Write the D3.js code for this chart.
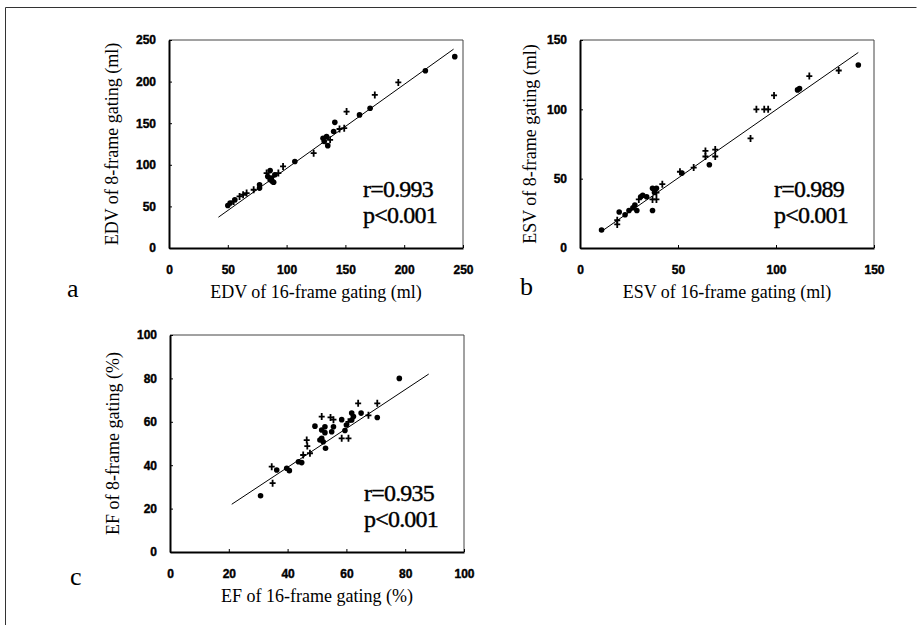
<!DOCTYPE html>
<html lang="en">
  <head>
    <meta charset="utf-8">
    <title>8-frame vs 16-frame gating</title>
    <script type="text/javascript" src="https://cdn.jsdelivr.net/npm/d3@7/dist/d3.min.js"></script>
    <style>
      body { margin: 0; background: #fff; }
    </style>
  </head>

  <body>
    <script>
      // values: [16-frame, 8-frame, marker]
      var edvPoints = [
        [243, 230, 'o'], [218, 213, 'o'], [195, 199, '+'], [175, 184, '+'], [171, 168, 'o'],
        [162, 160, 'o'], [151, 164, '+'], [141, 151, 'o'], [145, 143, '+'], [149, 144, '+'],
        [140, 140, 'o'], [134, 134, 'o'], [132, 128, 'o'], [131, 132, 'o'], [135, 123, 'o'],
        [137, 130, '+'], [123, 114, '+'], [107, 104, 'o'], [97, 98, '+'], [86, 93, 'o'],
        [90, 88, 'o'], [87, 84, 'o'], [84, 86, 'o'], [89, 79, 'o'], [93, 90, '+'],
        [83, 90, '+'], [77, 76, 'o'], [77, 72, 'o'], [72, 70, '+'], [66, 66, '+'],
        [63, 64, '+'], [60, 62, '+'], [56, 58, 'o'], [52, 54, 'o'], [50, 51, 'o'],
        [55, 56, '+'], [86, 82, 'o'], [88, 80, 'o']
      ]
      var esvPoints = [
        [142, 132, 'o'], [132, 128, '+'], [117, 124, '+'], [112, 115, 'o'], [111, 114, 'o'],
        [99, 110, '+'], [90, 100, '+'], [94, 100, '+'], [96, 100, '+'], [87, 79, '+'],
        [64, 70, '+'], [69, 71, '+'], [69, 66, '+'], [64, 66, '+'], [66, 60, 'o'],
        [58, 58, '+'], [52, 54, 'o'], [51, 55, '+'], [42, 46, '+'], [37, 43, 'o'],
        [39, 43, 'o'], [38, 40, 'o'], [32, 38, 'o'], [34, 37, 'o'], [39, 40, '+'],
        [37, 35, '+'], [39, 35, '+'], [37, 27, 'o'], [30, 35, '+'], [28, 31, 'o'],
        [29, 27, 'o'], [25, 27, 'o'], [20, 26, 'o'], [23, 24, 'o'], [19, 20, '+'],
        [19, 17, '+'], [11, 13, 'o'], [31, 37, 'o'], [27, 29, 'o']
      ]
      var efPoints = [
        [78, 80, 'o'], [70.5, 68.5, '+'], [70.5, 62, 'o'], [64, 68.5, '+'], [67.5, 63, '+'],
        [65, 64, 'o'], [62.4, 62.4, 'o'], [61.8, 60.8, 'o'], [61.8, 64, 'o'], [60.7, 60, '+'],
        [60, 58.5, 'o'], [59.5, 56, 'o'], [58.4, 61, 'o'], [60.7, 52.4, '+'], [55.6, 61, '+'],
        [55.6, 57.7, 'o'], [58.4, 52.4, '+'], [54.6, 62, '+'], [51.6, 62.4, '+'], [52.7, 57.7, 'o'],
        [52.7, 55, 'o'], [55, 55.4, 'o'], [51.6, 56.2, 'o'], [49.3, 58, 'o'], [51.6, 52.4, 'o'],
        [52.1, 50.8, 'o'], [52.9, 47.8, 'o'], [51, 51.6, 'o'], [46.5, 51.6, '+'], [46.7, 48.8, '+'],
        [47.6, 45.5, '+'], [45.3, 44.7, '+'], [44.8, 41.2, 'o'], [43.7, 41.6, 'o'], [39.7, 38.6, 'o'],
        [40.6, 37.5, 'o'], [36.3, 37.8, 'o'], [34.6, 39.3, '+'], [34.9, 31.7, '+'], [30.8, 25.9, 'o']
      ]

      // regression line ends
      var edvLine = [[42, 37], [242, 239]]
      var esvLine = [[11, 12], [142, 141]]
      var efLine = [[21, 22], [88, 82]]

      // tick labels
      var edvTicks = [0, 50, 100, 150, 200, 250]
      var esvTicks = [0, 50, 100, 150]
      var efTicks = [0, 20, 40, 60, 80, 100]

      var edvStats = ['r=0.993', 'p<0.001']
      var esvStats = ['r=0.989', 'p<0.001']
      var efStats = ['r=0.935', 'p<0.001']

      var serif = '"Liberation Serif", "Times New Roman", serif'
      var sans = '"Liberation Sans", Arial, sans-serif'

      var svg = d3.select('body').append('svg').attr('width', 923).attr('height', 625)

      // outer frame
      svg.append('path').attr('d', 'M5.5,640V7.5H916.5')
        .attr('fill', 'none').attr('stroke', '#333').attr('stroke-width', 1)

      function drawPanel(p) {
        var x = d3.scaleLinear().domain([0, p.max]).range(p.xr)
        var y = d3.scaleLinear().domain([0, p.max]).range(p.yr)
        var g = svg.append('g')

        // thin top / right edges
        g.append('path')
          .attr('d', 'M' + x(0) + ',' + y(p.max) + 'H' + x(p.max) + 'V' + y(0))
          .attr('fill', 'none').attr('stroke', '#444').attr('stroke-width', 1)

        // axes
        var xa = g.append('g').attr('transform', 'translate(0,' + y(0) + ')')
          .call(d3.axisBottom(x).tickValues(p.ticks).tickSize(-3).tickPadding(15).tickSizeOuter(0))
        var ya = g.append('g').attr('transform', 'translate(' + x(0) + ',0)')
          .call(d3.axisLeft(y).tickValues(p.ticks).tickSize(-3).tickPadding(13).tickSizeOuter(0))
        ;[xa, ya].forEach(function(a) {
          a.select('.domain').attr('stroke', '#000').attr('stroke-width', 2)
          a.selectAll('.tick line').attr('stroke', '#000').attr('stroke-width', 1)
          a.selectAll('.tick text').attr('font-family', sans).attr('font-weight', 'bold')
            .attr('font-size', 12).attr('fill', '#000')
            .attr('stroke', '#000').attr('stroke-width', 0.4)
        })
        xa.selectAll('.tick text').attr('dy', '0.9em')

        // regression line
        g.append('line')
          .attr('x1', x(p.line[0][0])).attr('y1', y(p.line[0][1]))
          .attr('x2', x(p.line[1][0])).attr('y2', y(p.line[1][1]))
          .attr('stroke', '#000').attr('stroke-width', 1)

        // markers
        g.selectAll('circle').data(p.points.filter(function(d) { return d[2] == 'o' }))
          .enter().append('circle')
          .attr('cx', function(d) { return x(d[0]) })
          .attr('cy', function(d) { return y(d[1]) })
          .attr('r', 2.8).attr('fill', '#000')
        g.selectAll('path.plus').data(p.points.filter(function(d) { return d[2] == '+' }))
          .enter().append('path').attr('class', 'plus')
          .attr('d', function(d) {
            var cx = x(d[0]), cy = y(d[1])
            return 'M' + (cx - 3) + ',' + cy + 'H' + (cx + 3) + 'M' + cx + ',' + (cy - 3.5) + 'V' + (cy + 3.5)
          })
          .attr('stroke', '#000').attr('stroke-width', 1.8)

        // r / p
        g.selectAll('text.stat').data(p.stats).enter().append('text').attr('class', 'stat')
          .attr('x', x(p.max) - 100).attr('y', function(d, i) { return y(0) - 51 + i * 26 })
          .attr('font-family', serif).attr('font-size', 24).attr('letter-spacing', -0.8)
          .attr('fill', '#000').attr('stroke', '#000').attr('stroke-width', 0.4)
          .text(function(d) { return d })

        // axis titles
        g.append('text')
          .attr('x', (x(0) + x(p.max)) / 2).attr('y', y(0) + 50)
          .attr('text-anchor', 'middle').attr('font-family', serif).attr('font-size', 18)
          .attr('fill', '#000').text(p.xTitle)
        g.append('text')
          .attr('transform', 'translate(' + p.yTitleX + ',' + (y(0) + y(p.max)) / 2 + ') rotate(-90)')
          .attr('text-anchor', 'middle').attr('font-family', serif).attr('font-size', 18)
          .attr('fill', '#000').text(p.yTitle)

        // panel letter
        g.append('text').attr('x', p.letterX).attr('y', y(0) + p.letterDy)
          .attr('font-family', serif).attr('font-size', 26).attr('fill', '#000').text(p.letter)
      }

      drawPanel({
        max: 250, xr: [169, 463], yr: [248, 40], ticks: edvTicks, points: edvPoints, line: edvLine,
        stats: edvStats, xTitle: 'EDV of 16-frame gating (ml)', yTitle: 'EDV of 8-frame gating (ml)',
        yTitleX: 118, letter: 'a', letterX: 67, letterDy: 49
      })
      drawPanel({
        max: 150, xr: [580, 874], yr: [248, 40], ticks: esvTicks, points: esvPoints, line: esvLine,
        stats: esvStats, xTitle: 'ESV of 16-frame gating (ml)', yTitle: 'ESV of 8-frame gating (ml)',
        yTitleX: 536, letter: 'b', letterX: 520, letterDy: 47
      })
      drawPanel({
        max: 100, xr: [170, 464], yr: [552, 335], ticks: efTicks, points: efPoints, line: efLine,
        stats: efStats, xTitle: 'EF of 16-frame gating (%)', yTitle: 'EF of 8-frame gating (%)',
        yTitleX: 119, letter: 'c', letterX: 70, letterDy: 33
      })
    </script>
  </body>
</html>
